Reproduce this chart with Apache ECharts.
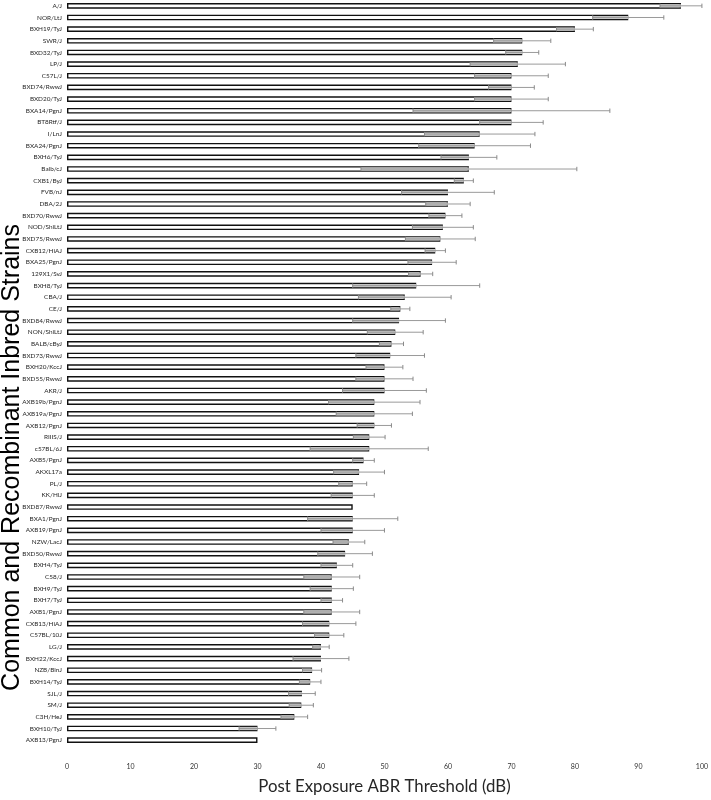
<!DOCTYPE html>
<html>
<head>
<meta charset="utf-8">
<script src="https://cdn.jsdelivr.net/npm/echarts@6/dist/echarts.min.js"></script>
<style>
html,body{margin:0;padding:0;background:#fff;}
#chart{width:711px;height:800px;}
</style>
</head>
<body>
<div id="chart"></div>
<script>
const strains = ["A/J","NOR/LtJ","BXH19/TyJ","SWR/J","BXD32/TyJ","LP/J","C57L/J","BXD74/RwwJ","BXD20/TyJ","BXA14/PgnJ","BT8Rtf/J","I/LnJ","BXA24/PgnJ","BXH6/TyJ","Balb/cJ","CXB1/ByJ","FVB/nJ","DBA/2J","BXD70/RwwJ","NOD/ShiLtJ","BXD75/RwwJ","CXB12/HiAJ","BXA25/PgnJ","129X1/SvJ","BXH8/TyJ","CBA/J","CE/J","BXD84/RwwJ","NON/ShiLtJ","BALB/cByJ","BXD73/RwwJ","BXH20/KccJ","BXD55/RwwJ","AKR/J","AXB19b/PgnJ","AXB19a/PgnJ","AXB12/PgnJ","RIIIS/J","c57BL/6J","AXB5/PgnJ","AKXL17a","PL/J","KK/HlJ","BXD87/RwwJ","BXA1/PgnJ","AXB19/PgnJ","NZW/LacJ","BXD50/RwwJ","BXH4/TyJ","C58/J","BXH9/TyJ","BXH7/TyJ","AXB1/PgnJ","CXB13/HiAJ","C57BL/10J","LG/J","BXH22/KccJ","NZB/BinJ","BXH14/TyJ","SJL/J","SM/J","C3H/HeJ","BXH10/TyJ","AXB13/PgnJ"];

const meanThreshold = [96.7,88.4,80.0,71.7,71.7,71.0,70.0,70.0,70.0,70.0,70.0,65.0,64.2,63.3,63.3,62.5,60.0,60.0,59.6,59.2,58.8,58.0,57.5,55.7,55.0,53.2,52.5,52.3,51.7,51.1,50.9,50.0,50.0,50.0,48.4,48.4,48.4,47.6,47.6,46.7,46.0,45.0,45.0,45.0,45.0,45.0,44.4,43.8,42.5,41.7,41.7,41.7,41.7,41.3,41.3,40.0,40.0,38.6,38.3,37.0,36.9,35.8,30.0,30.0];

const sdThreshold = [3.3,5.6,2.9,4.5,2.6,7.5,5.8,3.6,5.8,15.5,5.0,8.7,8.8,4.4,17.0,1.5,7.3,3.5,2.6,4.8,5.5,1.6,3.8,1.9,10.0,7.3,1.5,7.3,4.4,1.9,5.4,2.9,4.5,6.6,7.2,6.0,2.7,2.5,9.3,1.7,4.0,2.2,3.4,0,7.1,5.0,2.5,4.3,2.5,4.4,3.4,1.7,4.4,4.2,2.3,1.3,4.4,1.5,1.7,2.1,1.9,2.1,2.9,0];

const axisMin = 0, axisMax = 100, axisStep = 10;

const errData = strains.map((s, i) => [meanThreshold[i], i, sdThreshold[i]]);

const chart = echarts.init(document.getElementById('chart'), null, {renderer: 'canvas'});

function renderErr(params, api) {
  const mean = api.value(0);
  const cat = api.value(1);
  const sd = api.value(2);
  if (!sd) return null;
  const pL = api.coord([mean - sd, cat]);
  const pM = api.coord([mean, cat]);
  const pH = api.coord([mean + sd, cat]);
  const y = pM[1];
  const cap = 2.2;
  return {
    type: 'group',
    children: [
      {type: 'rect', shape: {x: pL[0], y: y - 1.6, width: pM[0] - pL[0], height: 3.2}, style: {fill: '#c4c4c4'}},
      {type: 'line', shape: {x1: pL[0], y1: y, x2: pH[0], y2: y}, style: {stroke: '#9a9a9a', lineWidth: 1}},
      {type: 'line', shape: {x1: pL[0], y1: y - cap, x2: pL[0], y2: y + cap}, style: {stroke: '#8a8a8a', lineWidth: 1}},
      {type: 'line', shape: {x1: pH[0], y1: y - cap, x2: pH[0], y2: y + cap}, style: {stroke: '#8a8a8a', lineWidth: 1}}
    ]
  };
}

chart.setOption({
  animation: false,
  backgroundColor: '#ffffff',
  grid: {left: 67, right: 8, top: -1, bottom: 49, containLabel: false},
  xAxis: {
    type: 'value',
    min: axisMin, max: axisMax, interval: axisStep,
    axisLine: {show: false}, axisTick: {show: false}, splitLine: {show: false},
    axisLabel: {fontFamily: 'Lato', fontSize: 7, color: '#333333', margin: 17},
    name: 'Post Exposure ABR Threshold (dB)',
    nameLocation: 'middle', nameGap: 32,
    nameTextStyle: {fontFamily: 'Lato', fontSize: 16.8, color: '#262626'}
  },
  yAxis: {
    type: 'category',
    data: strains,
    inverse: true,
    axisLine: {show: false}, axisTick: {show: false}, splitLine: {show: false},
    axisLabel: {fontFamily: 'Lato', fontSize: 6.4, color: '#262626', margin: 5, interval: 0}
  },
  graphic: [{
    type: 'text',
    left: 0, top: 224,
    rotation: Math.PI / 2,
    style: {text: 'Common and Recombinant Inbred Strains', font: '25px "Liberation Sans", Arial, sans-serif', fill: '#000'}
  }],
  series: [
    {
      type: 'bar',
      data: meanThreshold,
      barWidth: 5.6,
      itemStyle: {color: '#ffffff', borderColor: '#111111', borderWidth: 1.4},
      z: 2
    },
    {
      type: 'custom',
      data: errData,
      renderItem: renderErr,
      encode: {x: [0], y: 1},
      z: 3
    }
  ]
});
</script>
</body>
</html>
